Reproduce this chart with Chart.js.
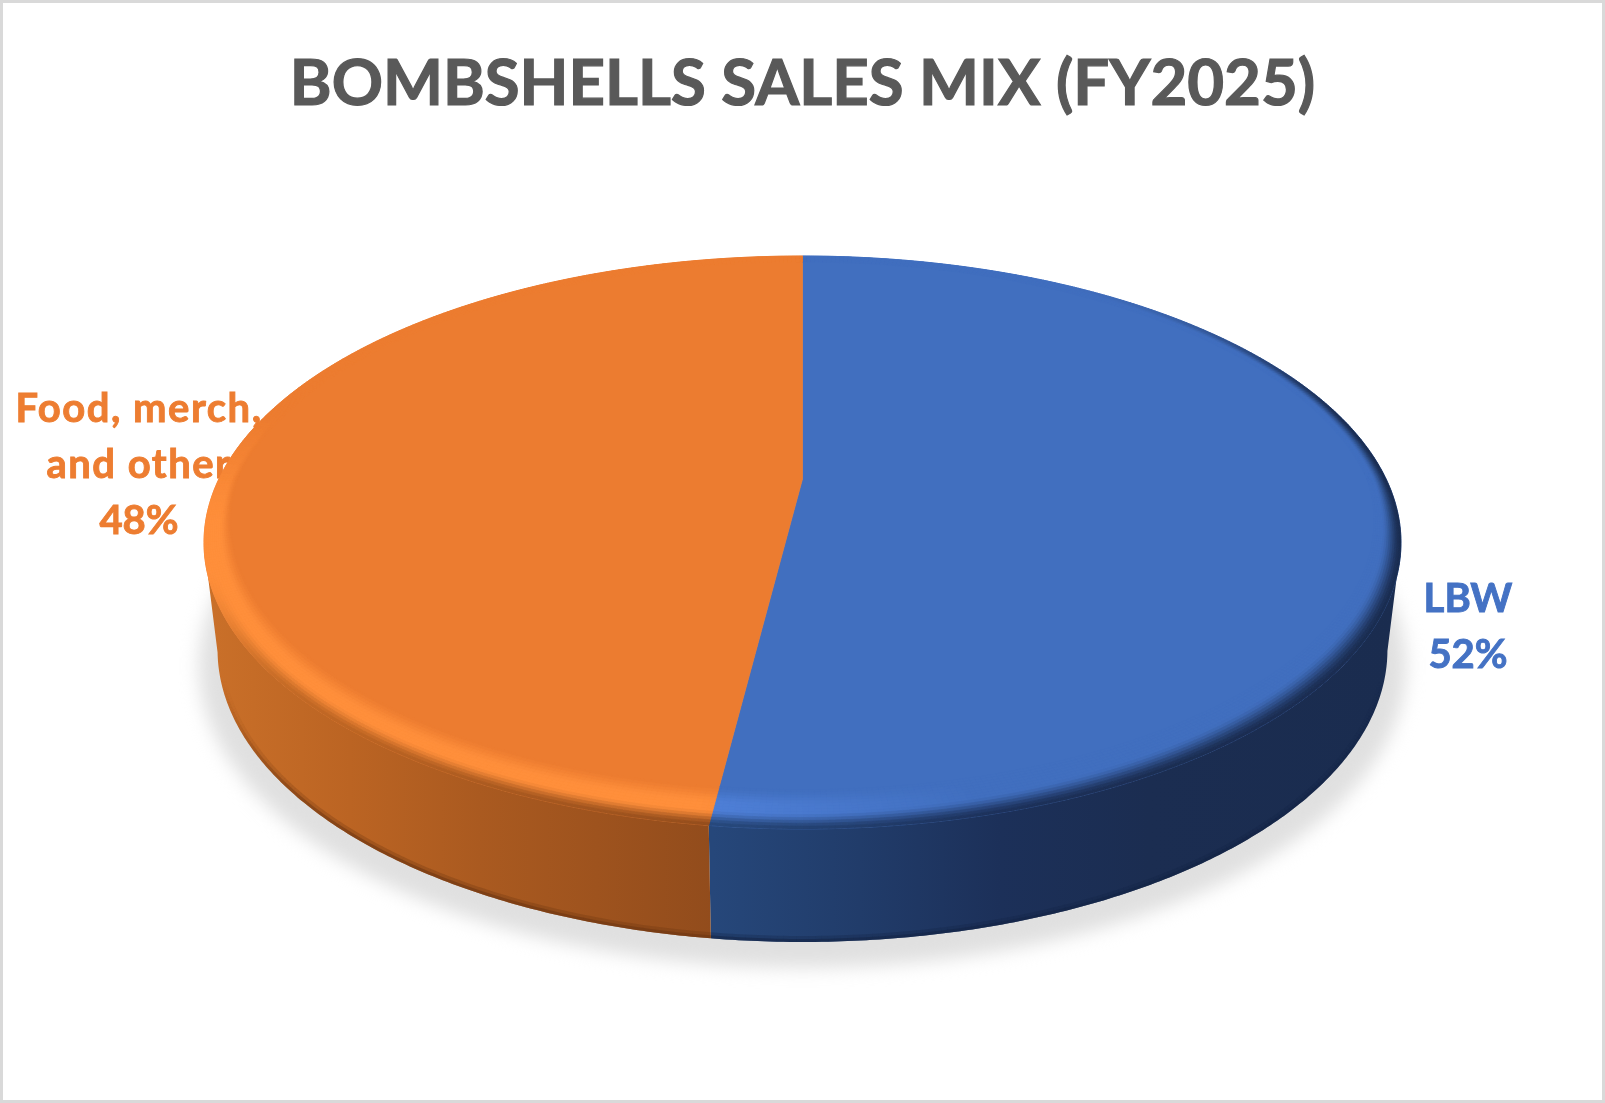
<!DOCTYPE html>
<html>
<head>
<meta charset="utf-8">
<title>Bombshells sales mix</title>
<script src="https://cdn.jsdelivr.net/npm/chart.js@4"></script>
<style>
  html, body { margin: 0; padding: 0; background: #fff; }
  canvas { display: block; }
</style>
</head>
<body>
<canvas id="mixChart" width="1605" height="1103"></canvas>
<script>
var chartTitle = "BOMBSHELLS SALES MIX (FY2025)";
var categories = ["LBW", "Food, merch, and other"];
var mixValues = [52, 48];
var labelLines = [["LBW"], ["Food, merch,", "and other"]];

// look of each slice, same order as categories
var topColors = ["#416fbf", "#ec7c30"];
var labelColors = ["#4472c4", "#ed7d31"];
var rimColors = ["#4f80d8", "#ff8f3b"];
var wallShades = [
  [[713, "#26477a"], [860, "#213c6a"], [1000, "#1c3059"], [1150, "#1b2d51"], [1400, "#1a2c4f"]],
  [[205, "#ca7029"], [350, "#bb6423"], [480, "#aa5a20"], [713, "#924c1c"]],
];
var wallEdges = ["#142445", "#6b3512"];
// where the label block sits: centre x, first baseline, extra letter space of the name lines
var labelSpots = [[1468, 612, 0], [139, 422, 1.5]];
var lineGap = 56;
var titleSize = 63.5;

// perspective of the disc (apex y, half sizes, tilt) and of its lower rim
var disc = { y0: 479, a: 583.6, b: 272.4, k: 0.2216 };
var rim = { y0: 585.2, a: 570.4, b: 277.7, k: 0.2216 };
var STEP = Math.PI / 360;

function project(p, cx, ang, r) {
  var X = r * Math.cos(ang);
  var Y = r * Math.sin(ang);
  var d = 1 - p.k * Y;
  return [cx + (p.a * X) / d, p.y0 + (p.b * Y) / d];
}

function smooth(v, a, b) {
  var t = Math.min(1, Math.max(0, (v - a) / (b - a)));
  return t * t * (3 - 2 * t);
}

function rgb(hex) {
  return [1, 3, 5].map(function (i) {
    return parseInt(hex.substr(i, 2), 16);
  });
}

function mix(c1, c2, t) {
  return c1.map(function (v, i) {
    return v + (c2[i] - v) * t;
  });
}

function css(c) {
  return "rgb(" + c.map(Math.round).join(",") + ")";
}

function wallColor(index, x) {
  var stops = wallShades[index];
  if (x <= stops[0][0]) return rgb(stops[0][1]);
  for (var i = 1; i < stops.length; i++) {
    if (x <= stops[i][0]) {
      var t = (x - stops[i - 1][0]) / (stops[i][0] - stops[i - 1][0]);
      return mix(rgb(stops[i - 1][1]), rgb(stops[i][1]), t);
    }
  }
  return rgb(stops[stops.length - 1][1]);
}

function quad(ctx, a, b, c, d, color) {
  ctx.fillStyle = color;
  ctx.strokeStyle = color;
  ctx.lineWidth = 0.7;
  ctx.beginPath();
  ctx.moveTo(a[0], a[1]);
  ctx.lineTo(b[0], b[1]);
  ctx.lineTo(c[0], c[1]);
  ctx.lineTo(d[0], d[1]);
  ctx.closePath();
  ctx.fill();
  ctx.stroke();
}

function drawLabels(ctx) {
  var total = mixValues.reduce(function (s, v) { return s + v; }, 0);
  ctx.save();
  ctx.font = "bold 40px Lato";
  ctx.textAlign = "center";
  ctx.textBaseline = "alphabetic";
  ctx.lineWidth = 0.9;
  categories.forEach(function (name, i) {
    var spot = labelSpots[i];
    var lines = labelLines[i].concat(Math.round((mixValues[i] / total) * 100) + "%");
    ctx.fillStyle = labelColors[i];
    ctx.strokeStyle = labelColors[i];
    lines.forEach(function (txt, n) {
      ctx.letterSpacing = n < labelLines[i].length ? spot[2] + "px" : "0px";
      ctx.fillText(txt, spot[0], spot[1] + n * lineGap);
      ctx.strokeText(txt, spot[0], spot[1] + n * lineGap);
    });
  });
  ctx.restore();
}

function drawShadow(ctx, cx) {
  ctx.save();
  ctx.filter = "blur(9px)";
  ctx.fillStyle = "#e0e0e0";
  ctx.beginPath();
  for (var a = 0; a < Math.PI * 2; a += 0.02) {
    var p = project(rim, cx, a, 1.03);
    if (a === 0) ctx.moveTo(p[0], p[1] + 12);
    else ctx.lineTo(p[0], p[1] + 12);
  }
  ctx.closePath();
  ctx.fill();
  ctx.restore();
}

function drawWall(ctx, cx, el, i, width) {
  // only the front of the disc shows a wall, from the widest point down
  var angles = [];
  for (var a = el.startAngle; a < el.endAngle; a += STEP) {
    if (Math.sin(a) > rim.k) angles.push(a);
  }
  if (Math.sin(el.endAngle) > rim.k) angles.push(el.endAngle);

  var grad = ctx.createLinearGradient(0, 0, width, 0);
  wallShades[i].forEach(function (s) {
    grad.addColorStop(s[0] / width, s[1]);
  });

  ctx.save();
  ctx.beginPath();
  angles.forEach(function (ang, n) {
    var p = project(disc, cx, ang, 1);
    if (n === 0) ctx.moveTo(p[0], p[1]);
    else ctx.lineTo(p[0], p[1]);
  });
  angles.slice().reverse().forEach(function (ang) {
    var p = project(rim, cx, ang, 1);
    ctx.lineTo(p[0], p[1]);
  });
  ctx.closePath();
  ctx.fillStyle = grad;
  ctx.fill();
  ctx.clip();

  // darker lower edge, fades out towards the sides
  var edge = rgb(wallEdges[i]);
  [[12, 0.3], [6, 0.55]].forEach(function (pass) {
    ctx.lineWidth = pass[0];
    for (var n = 0; n < angles.length - 1; n++) {
      var p1 = project(rim, cx, angles[n], 1);
      var p2 = project(rim, cx, angles[n + 1], 1);
      var alpha = pass[1] * smooth(Math.sin(angles[n]), 0.3, 0.8);
      ctx.strokeStyle = "rgba(" + edge.join(",") + "," + alpha + ")";
      ctx.beginPath();
      ctx.moveTo(p1[0], p1[1]);
      ctx.lineTo(p2[0], p2[1]);
      ctx.stroke();
    }
  });
  ctx.restore();
}

function drawTop(ctx, cx, el, i) {
  ctx.fillStyle = topColors[i];
  ctx.strokeStyle = topColors[i];
  ctx.lineWidth = 0.7;
  ctx.beginPath();
  ctx.moveTo(cx, disc.y0);
  for (var a = el.startAngle; a < el.endAngle; a += STEP) {
    var p = project(disc, cx, a, 1);
    ctx.lineTo(p[0], p[1]);
  }
  var last = project(disc, cx, el.endAngle, 1);
  ctx.lineTo(last[0], last[1]);
  ctx.closePath();
  ctx.fill();
  ctx.stroke();
}

// rounded edge between the top face and the wall
function drawBevel(ctx, cx, el, i) {
  var base = rgb(topColors[i]);
  var lit = rgb(rimColors[i]);
  var rings = 14;
  for (var a = el.startAngle; a < el.endAngle; a += STEP) {
    var b = Math.min(a + STEP, el.endAngle);
    var nx = Math.cos(a);
    var ny = Math.sin(a);
    var w = 0.033 + 0.057 * Math.max(0, ny);
    var glow = Math.min(1, Math.max(0, (0.25 - nx) / 0.4)) * smooth(ny, -0.3, 0.2);
    var dark = nx >= 0 ? smooth(ny, -0.9, -0.2) : smooth(ny, 0.3, 0.7);
    var from = nx >= 0 ? 0.6 - 0.3 * nx : 0.6;
    var mid = project(disc, cx, (a + b) / 2, 1);
    var target = wallColor(i, mid[0]);
    for (var n = 0; n < rings; n++) {
      var t = (n + 0.5) / rings;
      var c = mix(base, lit, glow * smooth(t, 0, 0.45));
      c = mix(c, target, dark * smooth(t, from, 1));
      var r1 = 1 - w * (1 - n / rings);
      var r2 = 1 - w * (1 - (n + 1) / rings);
      quad(
        ctx,
        project(disc, cx, a, r1),
        project(disc, cx, b, r1),
        project(disc, cx, b, r2),
        project(disc, cx, a, r2),
        css(c)
      );
    }
  }
}

var discPlugin = {
  id: "disc3d",
  beforeDraw: function (chart) {
    var ctx = chart.ctx;
    ctx.save();
    ctx.fillStyle = "#fff";
    ctx.fillRect(0, 0, chart.width, chart.height);
    ctx.strokeStyle = "#d9d9d9";
    ctx.lineWidth = 3;
    ctx.strokeRect(1.5, 1.5, chart.width - 3, chart.height - 3);
    ctx.restore();
  },
  // the arcs come from the library, only their projection is done here
  beforeDatasetDraw: function (chart, args) {
    var ctx = chart.ctx;
    var arcs = args.meta.data;
    var cx = arcs[0].x;
    drawLabels(ctx);
    drawShadow(ctx, cx);
    ctx.save();
    arcs.forEach(function (el, i) { drawWall(ctx, cx, el, i, chart.width); });
    arcs.forEach(function (el, i) { drawTop(ctx, cx, el, i); });
    arcs.forEach(function (el, i) { drawBevel(ctx, cx, el, i); });
    ctx.restore();
    return false;
  },
  // the title font is a little too thin on its own
  afterDraw: function (chart) {
    var ctx = chart.ctx;
    var block = chart.titleBlock;
    ctx.save();
    ctx.font = "bold " + titleSize + "px Lato";
    ctx.textAlign = "center";
    ctx.textBaseline = "middle";
    ctx.strokeStyle = "#595959";
    ctx.lineWidth = 1.2;
    ctx.strokeText(
      chartTitle,
      chart.width / 2,
      block.top + block.options.padding.top + (titleSize * 1.2) / 2
    );
    ctx.restore();
  },
};

new Chart(document.getElementById("mixChart"), {
  type: "pie",
  data: {
    labels: categories,
    datasets: [{ data: mixValues, backgroundColor: topColors, borderWidth: 0 }],
  },
  options: {
    responsive: false,
    animation: false,
    devicePixelRatio: 1,
    plugins: {
      legend: { display: false },
      tooltip: { enabled: false },
      title: {
        display: true,
        text: chartTitle,
        color: "#595959",
        font: { family: "Lato", size: titleSize, weight: "bold" },
        padding: { top: 46, bottom: 20 },
      },
    },
  },
  plugins: [discPlugin],
});
</script>
</body>
</html>
